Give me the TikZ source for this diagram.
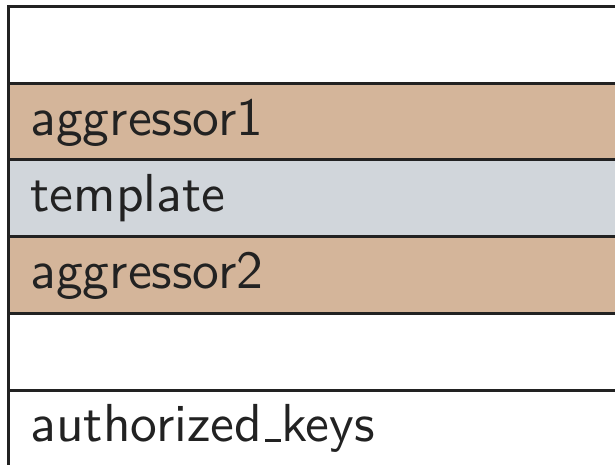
\documentclass[tikz,border=0pt]{standalone}
\usepackage{fontspec}
\setsansfont{lmsans10-regular.otf}
\definecolor{AggrTan}{RGB}{212,181,154}
\definecolor{TmplGrey}{RGB}{209,214,219}
\definecolor{RuleDark}{RGB}{34,34,34}
\usetikzlibrary{positioning}
\newcommand{\lowbar}{\kern.06em\vbox{\hrule height.05em width.3em}}
\tikzset{slot/.style={draw=RuleDark,line width=3pt,outer sep=0pt,minimum width=640pt,minimum height=76.7pt,
    text width=600pt,align=left,inner xsep=22pt,inner ysep=0pt,text height=40pt,text depth=13pt,
    font=\sffamily\fontsize{53.5}{60}\selectfont,text=RuleDark}}
\tikzset{aggr/.style={slot,fill=AggrTan}}
\tikzset{tmpl/.style={slot,fill=TmplGrey}}

\begin{document}
\begin{tikzpicture}[x=1pt,y=1pt]
    \useasboundingbox (0,0) rectangle (615,-465);
    % memory rows, top to bottom
    \node[slot,anchor=north west] (free1) at (8.5,-6.5) {};
    \node[aggr,below=0pt of free1.south west,anchor=north west] (aggr1) {aggressor1};
    \node[tmpl,below=0pt of aggr1.south west,anchor=north west] (tmpl) {template};
    \node[aggr,below=0pt of tmpl.south west,anchor=north west] (aggr2) {aggressor2};
    \node[slot,below=0pt of aggr2.south west,anchor=north west] (free2) {};
    \node[slot,below=0pt of free2.south west,anchor=north west] (keys) {authorized\lowbar keys};
\end{tikzpicture}
\end{document}
